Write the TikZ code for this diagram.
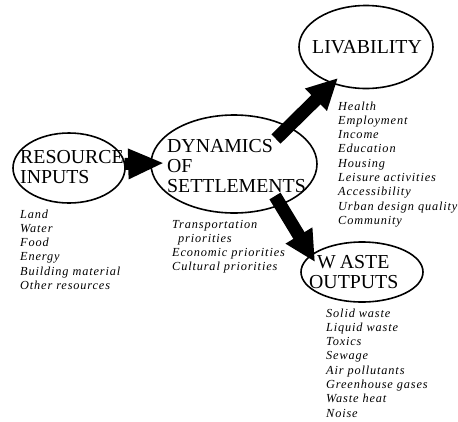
\documentclass[tikz,border=0pt]{standalone}
\usepackage{fontspec}
\setmainfont{Liberation Serif}
\newfontfamily\listfont[LetterSpace=7]{Liberation Serif}
\usetikzlibrary{shapes.geometric,arrows.meta,calc}
\begin{document}
\begin{tikzpicture}[x=1pt,y=-1pt,
  bubble/.style={draw, line width=1.6pt, ellipse, inner sep=0pt},
  titletext/.style={anchor=base west, inner sep=0pt, font=\fontsize{19.8}{20}\selectfont},
  items/.style={anchor=base west, inner sep=0pt, font=\listfont\itshape\fontsize{12.3}{14.3}\selectfont},
  flow/.style={line width=13pt, -{Triangle[length=31pt,width=29pt]}}]
\useasboundingbox (0,0) rectangle (458,421);

% bubbles
\node[bubble, minimum width=112pt, minimum height=70pt] (res) at (69,168) {};
\node[bubble, minimum width=166pt, minimum height=98pt] (dyn) at (234,164) {};
\node[bubble, minimum width=134pt, minimum height=83pt] (liv) at (366,47) {};
\node[bubble, minimum width=122pt, minimum height=60pt] (waste) at (362,272) {};

% titles
\node[titletext] (restxt) at (20,163) {\begin{tabular}[t]{@{}l@{}}RESOURCE\\INPUTS\end{tabular}};
\node[titletext] (dyntxt) at (167,152) {\begin{tabular}[t]{@{}l@{}}DYNAMICS\\OF\\SETTLEMENTS\end{tabular}};
\node[titletext] (livtxt) at (312,53) {LIVABILITY};
\node[titletext] (wastetxt) at (309,268) {\begin{tabular}[t]{@{}l@{}}\hspace*{8pt}W\kern4pt ASTE\\OUTPUTS\end{tabular}};

% lists
\node[items] (reslist) at (20,218) {\begin{tabular}[t]{@{}l@{}}Land\\Water\\Food\\Energy\\Building material\\Other resources\end{tabular}};
\node[items] (dynlist) at (172,228) {\begin{tabular}[t]{@{}l@{}}Transportation\\\hspace*{6pt}priorities\\Economic priorities\\Cultural priorities\end{tabular}};
\node[items] (livlist) at (338,110) {\begin{tabular}[t]{@{}l@{}}Health\\Employment\\Income\\Education\\Housing\\Leisure activities\\Accessibility\\Urban design quality\\Community\end{tabular}};
\node[items] (wastelist) at (326,317) {\begin{tabular}[t]{@{}l@{}}Solid waste\\Liquid waste\\Toxics\\Sewage\\Air pollutants\\Greenhouse gases\\Waste heat\\Noise\end{tabular}};

% connectors
\draw[line width=12pt, -{Triangle[length=36pt,width=28pt]}] ($(res.east)+(-1,-4)$) -- ($(dyn.west)+(14,-1)$);
\draw[flow] ($(dyn.center)+(42,-25)$) -- ($(liv.center)+(-28,31)$);
\draw[flow] ($(dyn.center)+(41,32)$) -- ($(waste.center)+(-47,-10)$);
\end{tikzpicture}
\end{document}
